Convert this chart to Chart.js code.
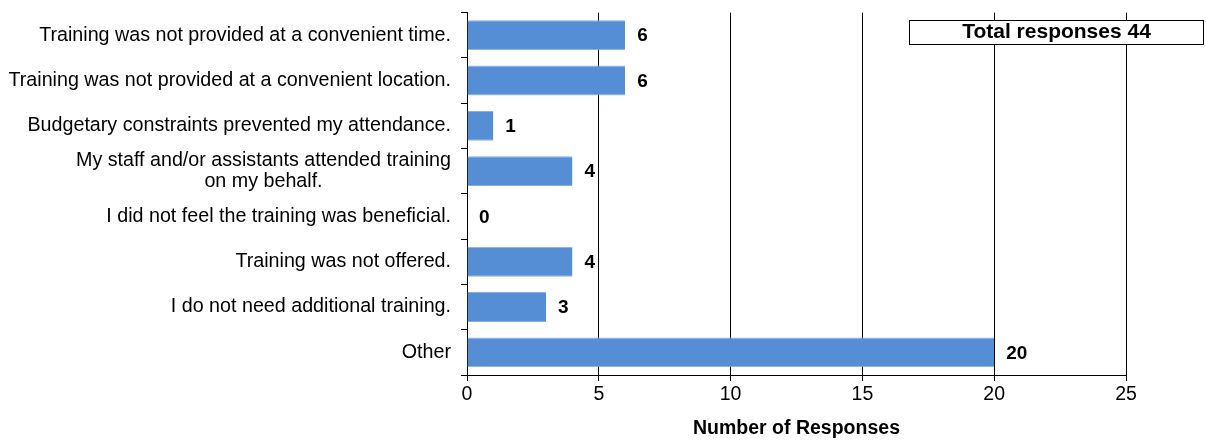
<!DOCTYPE html>
<html>
<head>
<meta charset="utf-8">
<script src="https://cdn.jsdelivr.net/npm/chart.js@4/dist/chart.umd.min.js"></script>
<style>
  html, body { margin: 0; padding: 0; background: #fff; }
  #wrap { width: 1206px; height: 440px; }
</style>
</head>
<body>
<div id="wrap"><canvas id="chart"></canvas></div>
<script>
// categories (multi-line labels as arrays)
var categories = [
    'Training was not provided at a convenient time.',
    'Training was not provided at a convenient location.',
    'Budgetary constraints prevented my attendance.',
    ['My staff and/or assistants attended training', 'on my behalf.'],
    'I did not feel the training was beneficial.',
    'Training was not offered.',
    'I do not need additional training.',
    'Other'
];
var responses = [6, 6, 1, 4, 0, 4, 3, 20];
var xTicks = [0, 5, 10, 15, 20, 25];

var totalResponses = responses.reduce(function(a, b) { return a + b; }, 0);
var FONT = '"Liberation Sans", Arial, sans-serif';

// draws the category labels (lines centred on each other, block right aligned)
var categoryLabels = {
    id: 'categoryLabels',
    afterDraw: function(chart) {
        var ctx = chart.ctx;
        var y = chart.scales.y;
        var right = chart.chartArea.left - 16;
        ctx.save();
        ctx.font = '19.7px ' + FONT;
        ctx.fillStyle = '#000';
        ctx.textBaseline = 'middle';
        ctx.textAlign = 'center';
        categories.forEach(function(label, i) {
            var lines = Array.isArray(label) ? label : [label];
            var widest = Math.max.apply(null, lines.map(function(l) { return ctx.measureText(l).width; }));
            var cx = right - widest / 2;
            var cy = y.getPixelForTick(i);
            var lh = 21;
            lines.forEach(function(l, j) {
                ctx.fillText(l, cx, cy + (j - (lines.length - 1) / 2) * lh);
            });
        });
        ctx.restore();
    }
};

// value labels at the end of each bar
var valueLabels = {
    id: 'valueLabels',
    afterDatasetsDraw: function(chart) {
        var ctx = chart.ctx;
        var meta = chart.getDatasetMeta(0);
        ctx.save();
        ctx.font = 'bold 19px ' + FONT;
        ctx.fillStyle = '#000';
        ctx.textBaseline = 'middle';
        ctx.textAlign = 'left';
        meta.data.forEach(function(bar, i) {
            ctx.fillText(responses[i], bar.x + 12, bar.y + 1);
        });
        ctx.restore();
    }
};

// "Total responses" box in the top right corner
var totalBox = {
    id: 'totalBox',
    afterDraw: function(chart) {
        var ctx = chart.ctx;
        var x = 909, y = 20, w = 295, h = 25;
        ctx.save();
        ctx.fillStyle = '#fff';
        ctx.fillRect(x, y, w, h);
        ctx.strokeStyle = '#000';
        ctx.lineWidth = 1;
        ctx.strokeRect(x + 0.5, y + 0.5, w - 1, h - 1);
        ctx.font = 'bold 21px ' + FONT;
        ctx.fillStyle = '#000';
        ctx.textAlign = 'center';
        ctx.textBaseline = 'middle';
        ctx.fillText('Total responses ' + totalResponses, x + w / 2, y + h / 2);
        ctx.restore();
    }
};

new Chart(document.getElementById('chart'), {
    type: 'bar',
    data: {
        labels: categories,
        datasets: [{
            data: responses,
            backgroundColor: '#558ed5',
            borderColor: '#8aaee0',
            borderWidth: { top: 1, bottom: 1, left: 0, right: 0 },
            borderSkipped: false,
            categoryPercentage: 1,
            barPercentage: 0.66
        }]
    },
    options: {
        indexAxis: 'y',
        responsive: true,
        maintainAspectRatio: false,
        animation: false,
        layout: { padding: { top: 10, right: 80, left: 0, bottom: 0 } },
        plugins: {
            legend: { display: false },
            tooltip: { enabled: false }
        },
        scales: {
            x: {
                min: 0,
                max: 25,
                afterBuildTicks: function(s) {
                    s.ticks = xTicks.map(function(v) { return { value: v }; });
                },
                afterFit: function(s) { s.height = 65; },
                grid: {
                    color: '#000',
                    lineWidth: 1,
                    drawTicks: true,
                    tickLength: 6
                },
                border: { display: true, color: '#000', width: 1 },
                ticks: {
                    color: '#000',
                    padding: 2,
                    maxRotation: 0,
                    font: { family: FONT, size: 19.5 }
                },
                title: {
                    display: true,
                    text: 'Number of Responses',
                    color: '#000',
                    padding: { top: 0, bottom: 0 },
                    font: { family: FONT, size: 19.5, weight: 'bold' }
                }
            },
            y: {
                afterFit: function(s) { s.width = 467; },
                grid: {
                    offset: true,
                    drawOnChartArea: false,
                    drawTicks: true,
                    tickLength: 6,
                    color: '#000'
                },
                border: { display: true, color: '#000', width: 1 },
                ticks: { color: 'rgba(0,0,0,0)', font: { size: 16 } }
            }
        }
    },
    plugins: [categoryLabels, valueLabels, totalBox]
});
</script>
</body>
</html>
